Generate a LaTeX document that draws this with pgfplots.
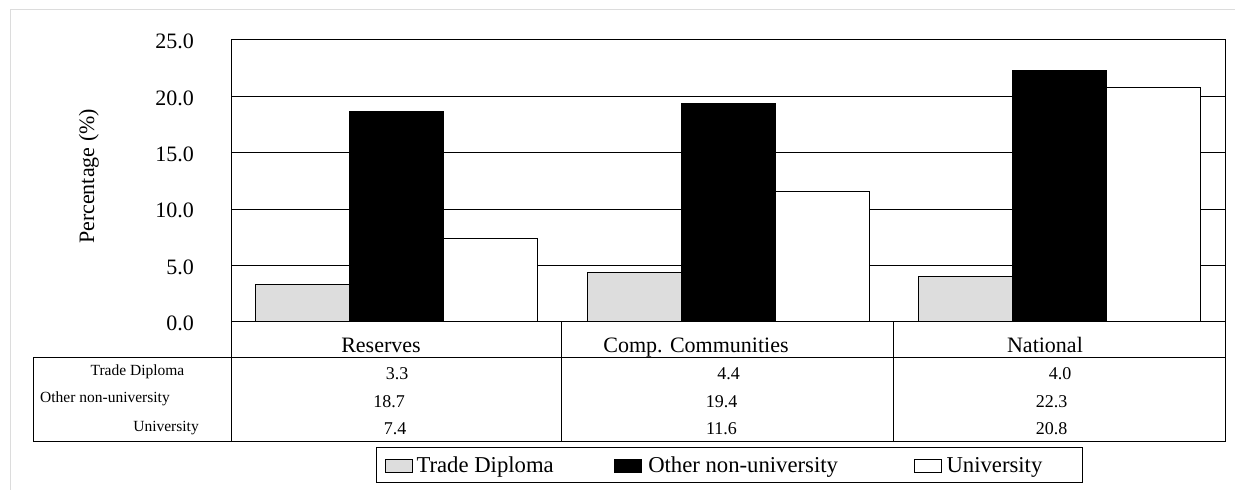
\documentclass[border=0pt]{standalone}
\usepackage{fontspec}
\setmainfont{Liberation Serif}
\usepackage{pgfplots}
\pgfplotsset{compat=1.18}
\definecolor{tradegray}{RGB}{221,221,221}
\definecolor{framegray}{RGB}{220,220,220}
\newcommand{\bigfont}{\fontsize{22}{26}\selectfont}
\newcommand{\legfont}{\fontsize{22.7}{26}\selectfont}
\newcommand{\rowfont}{\fontsize{15.5}{18}\selectfont}
\newcommand{\valfont}{\fontsize{18}{21}\selectfont}

\begin{document}
\begin{tikzpicture}[x=1pt,y=1pt]
\useasboundingbox (0,0) rectangle (1235,490);
% light frame round the chart
\draw[framegray, line width=1pt] (10,0) -- (10,480.5) -- (1235,480.5);

\begin{axis}[
    at={(231pt,168pt)}, anchor=south west,
    scale only axis, width=994pt, height=282pt,
    xmin=-0.5, xmax=2.5, ymin=0, ymax=25,
    xtick={-0.0473,0.9034,1.9567},
    xticklabels={Reserves, Comp. Communities, National},
    ytick={0,5,...,25},
    major tick length=0pt,
    ymajorgrids, grid style={black, line width=1pt},
    axis line style={black, line width=1pt},
    /pgf/number format/assume math mode=true,
    yticklabel style={/pgf/number format/.cd, fixed, fixed zerofill, precision=1, /tikz/.cd,
        anchor=east, inner sep=0pt, xshift=-37pt, yshift=-1.5pt},
    xticklabel style={anchor=base, inner sep=0pt, yshift=-30.5pt},
    tick label style={font=\bigfont},
    ylabel={Percentage (\%)},
    every axis y label/.style={at={(axis description cs:-0.1429,0.516)}, rotate=90,
        anchor=center, inner sep=0pt, font=\bigfont},
    legend columns=3,
    legend style={at={(rel axis cs:0.1459,-0.4433)}, anchor=north west,
        draw=black, line width=1pt, inner xsep=8.5pt, inner ysep=9.5pt,
        font=\legfont, nodes={inner sep=0pt, text depth=0pt},
        /tikz/column 1/.style={column sep=3.5pt},
        /tikz/column 2/.style={column sep=60.5pt},
        /tikz/column 3/.style={column sep=6pt},
        /tikz/column 4/.style={column sep=76pt},
        /tikz/column 5/.style={column sep=4.5pt}},
    swatch/.style={legend image code/.code={\draw[##1, line width=1pt] (0pt,-7.5pt) rectangle (27pt,5.5pt);}},
]
\addplot[ybar, bar width=0.2837, bar shift=-0.2837, fill=tradegray, draw=black, line width=1pt, swatch]
    coordinates {(0,3.3) (1,4.4) (2,4.0)};
\addplot[ybar, bar width=0.2837, bar shift=0, fill=black, draw=black, line width=1pt, swatch]
    coordinates {(0,18.7) (1,19.4) (2,22.3)};
\addplot[ybar, bar width=0.2837, bar shift=0.2837, fill=white, draw=black, line width=1pt, swatch]
    coordinates {(0,7.4) (1,11.6) (2,20.8)};
\addlegendentry{Trade Diploma}
\addlegendentry{Other non-university}
\addlegendentry{University\hspace*{32pt}}
\end{axis}

% data table under the plot
\draw[line width=1pt] (33,132) -- (1225,132);
\draw[line width=1pt] (33,48) -- (1225,48);
\draw[line width=1pt] (33,48) -- (33,132);
\foreach \x in {231,561.3,893,1225}
    \draw[line width=1pt] (\x,48) -- (\x,168);

\begin{scope}[every node/.style={inner sep=0pt, font=\rowfont}]
\node[anchor=base] at (137.5,114) {Trade Diploma};
\node[anchor=base west] at (40,87) {Other non-university};
\node[anchor=base east] at (199,58.5) {University};
\end{scope}

\begin{scope}[every node/.style={inner sep=0pt, anchor=base, font=\valfont}]
\node at (397,110.7) {3.3};
\node at (728.5,110.7) {4.4};
\node at (1060,110.7) {4.0};
\node at (389,82.7) {18.7};
\node at (721.5,82.7) {19.4};
\node at (1051.5,82.7) {22.3};
\node at (395,55) {7.4};
\node at (721.5,55) {11.6};
\node at (1051.5,55) {20.8};
\end{scope}
\end{tikzpicture}
\end{document}
